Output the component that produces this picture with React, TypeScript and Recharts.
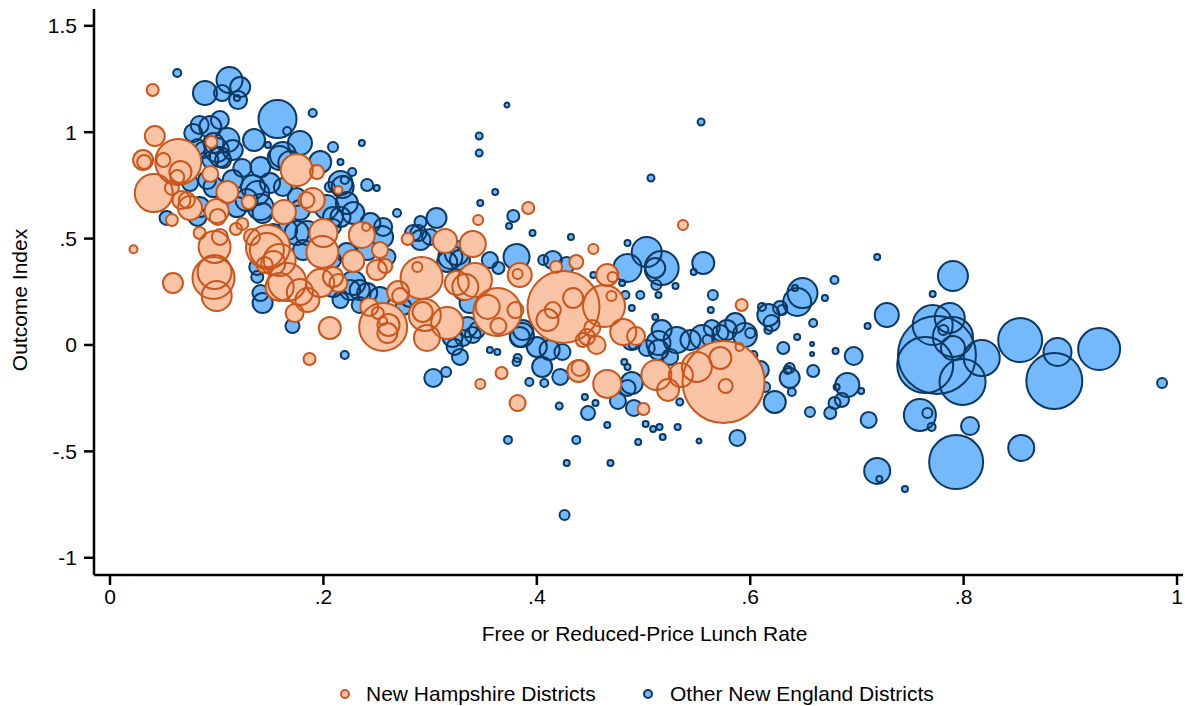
import React from 'react';
import { ScatterChart, Scatter, XAxis, YAxis, ZAxis, Label } from 'recharts';

const FONT = '"Liberation Sans", Arial, Helvetica, sans-serif';
const FONT_SIZE = 21;

const BLUE_FILL = '#74b9fb';
const BLUE_LINE = '#0b3963';
const ORANGE_FILL = '#f9c3a6';
const ORANGE_LINE = '#c9571b';

const xTicks = [0, 0.2, 0.4, 0.6, 0.8, 1];
const xTickLabels = ['0', '.2', '.4', '.6', '.8', '1'];
const yTicks = [-1, -0.5, 0, 0.5, 1, 1.5];
const yTickLabels = ['-1', '-.5', '0', '.5', '1', '1.5'];

// [free/reduced-price lunch rate, outcome index, enrollment]
type District = [number, number, number];

const nhDistricts: District[] = [
  [0.022, 0.45, 160], [0.040, 1.198, 360], [0.042, 0.982, 1000], [0.031, 0.869, 1000],
  [0.032, 0.860, 490], [0.050, 0.869, 490], [0.064, 0.860, 5290], [0.041, 0.714, 3610],
  [0.066, 0.813, 1210], [0.063, 0.789, 490], [0.058, 0.738, 490], [0.067, 0.681, 810],
  [0.075, 0.644, 1440], [0.072, 0.681, 640], [0.058, 0.587, 360], [0.059, 0.291, 1000],
  [0.095, 0.954, 360], [0.094, 0.804, 640], [0.110, 0.719, 1210], [0.130, 0.672, 490],
  [0.100, 0.630, 1440], [0.101, 0.602, 640], [0.084, 0.526, 360], [0.098, 0.461, 2560],
  [0.103, 0.508, 640], [0.124, 0.569, 360], [0.118, 0.545, 360], [0.133, 0.508, 640],
  [0.097, 0.315, 4410], [0.098, 0.343, 2890], [0.100, 0.230, 2250], [0.148, 0.461, 4840],
  [0.147, 0.446, 2890], [0.153, 0.385, 1440], [0.159, 0.399, 2560], [0.145, 0.376, 640],
  [0.166, 0.296, 3610], [0.159, 0.273, 1960], [0.178, 0.249, 1690], [0.173, 0.150, 810],
  [0.185, 0.211, 1440], [0.175, 0.822, 2560], [0.194, 0.813, 490], [0.214, 0.728, 160],
  [0.163, 0.625, 1440], [0.190, 0.681, 1440], [0.184, 0.681, 640], [0.200, 0.526, 1960],
  [0.199, 0.437, 2560], [0.197, 0.291, 1960], [0.209, 0.320, 1000], [0.214, 0.291, 810],
  [0.228, 0.395, 1210], [0.236, 0.517, 1690], [0.240, 0.555, 160], [0.253, 0.446, 640],
  [0.250, 0.352, 1000], [0.258, 0.371, 490], [0.206, 0.080, 1210], [0.187, -0.066, 360],
  [0.256, 0.085, 5760], [0.243, 0.179, 810], [0.251, 0.150, 360], [0.261, 0.094, 1210],
  [0.260, 0.056, 1000], [0.256, 0.113, 160], [0.270, 0.249, 1210], [0.272, 0.230, 640],
  [0.279, 0.498, 360], [0.314, 0.489, 1440], [0.340, 0.475, 1690], [0.345, 0.587, 250],
  [0.392, 0.644, 360], [0.292, 0.315, 4410], [0.288, 0.367, 250], [0.295, 0.141, 2560],
  [0.293, 0.155, 1000], [0.316, 0.103, 2560], [0.297, 0.033, 1690], [0.342, 0.305, 2890],
  [0.333, 0.273, 1690], [0.325, 0.291, 1440], [0.354, 0.179, 1440], [0.363, 0.155, 5760],
  [0.364, 0.089, 640], [0.380, 0.164, 640], [0.384, 0.329, 1440], [0.382, 0.334, 250],
  [0.418, 0.367, 360], [0.437, 0.390, 490], [0.453, 0.451, 250], [0.425, 0.179, 12960],
  [0.434, 0.221, 1000], [0.415, 0.164, 640], [0.410, 0.117, 1210], [0.463, 0.183, 4410],
  [0.470, 0.230, 250], [0.466, 0.329, 1210], [0.471, 0.320, 250], [0.452, 0.080, 640],
  [0.456, 0.000, 810], [0.447, 0.038, 640], [0.443, 0.023, 490], [0.481, 0.061, 1690],
  [0.493, 0.042, 810], [0.439, -0.122, 1210], [0.440, -0.108, 640], [0.367, -0.132, 360],
  [0.347, -0.183, 250], [0.382, -0.273, 640], [0.466, -0.183, 1960], [0.500, -0.301, 360],
  [0.537, 0.564, 250], [0.592, 0.188, 360], [0.512, -0.141, 2250], [0.523, -0.211, 1210],
  [0.535, -0.141, 1440], [0.550, -0.103, 2250], [0.572, -0.061, 1210], [0.575, -0.174, 16810],
  [0.577, -0.193, 490], [0.590, -0.009, 160],
];

// Other New England districts, grouped by lunch-rate band
const otherLowRate: District[] = [
  [0.063, 1.278, 160], [0.089, 1.184, 1440], [0.112, 1.245, 1690], [0.122, 1.212, 1000],
  [0.105, 1.184, 640], [0.120, 1.151, 810], [0.119, 1.161, 90], [0.157, 1.062, 3610],
  [0.190, 1.090, 160], [0.166, 1.006, 160], [0.135, 0.963, 1210], [0.148, 0.940, 90],
  [0.178, 0.949, 1440], [0.209, 0.930, 250], [0.236, 0.949, 90], [0.197, 0.860, 1210],
  [0.162, 0.893, 1690], [0.169, 0.855, 1440], [0.141, 0.836, 1000], [0.124, 0.832, 810],
  [0.110, 0.963, 1440], [0.094, 1.024, 1210], [0.078, 0.996, 810], [0.084, 1.034, 810],
  [0.103, 1.057, 810], [0.082, 0.930, 640], [0.094, 0.869, 640], [0.100, 0.916, 1440],
  [0.115, 0.916, 1000], [0.103, 0.883, 1000], [0.097, 0.949, 1000], [0.087, 0.916, 640],
  [0.091, 0.775, 810], [0.097, 0.742, 1000], [0.053, 0.597, 490], [0.084, 0.648, 1000],
  [0.082, 0.602, 810], [0.075, 0.761, 640], [0.115, 0.775, 1000], [0.134, 0.742, 1440],
  [0.150, 0.761, 1000], [0.162, 0.742, 810], [0.138, 0.714, 1440], [0.141, 0.648, 1690],
  [0.128, 0.681, 1210], [0.175, 0.695, 810], [0.203, 0.648, 1440], [0.209, 0.602, 1000],
  [0.228, 0.620, 1210], [0.244, 0.573, 1000], [0.175, 0.526, 1440], [0.166, 0.540, 1000],
  [0.181, 0.446, 1000], [0.222, 0.432, 1000], [0.241, 0.446, 1000], [0.228, 0.291, 1440],
  [0.241, 0.244, 1000], [0.143, 0.197, 1000], [0.141, 0.244, 640], [0.106, 0.869, 640],
  [0.216, 0.761, 1440], [0.241, 0.752, 360], [0.220, 0.775, 160], [0.159, 0.879, 1440],
  [0.206, 0.742, 250], [0.218, 0.742, 1210], [0.250, 0.738, 90], [0.269, 0.620, 160],
  [0.222, 0.667, 1210], [0.216, 0.602, 1000], [0.256, 0.555, 810], [0.119, 0.648, 1000],
  [0.143, 0.620, 1000], [0.153, 0.526, 810], [0.178, 0.634, 1000], [0.185, 0.526, 1440],
  [0.209, 0.555, 640], [0.209, 0.399, 640], [0.138, 0.367, 640], [0.138, 0.320, 360],
  [0.171, 0.089, 490], [0.209, 0.273, 1000], [0.216, 0.211, 640], [0.225, 0.258, 1000],
  [0.234, 0.188, 640], [0.281, 0.226, 1000], [0.275, 0.179, 640], [0.220, -0.047, 160],
  [0.303, -0.155, 810], [0.315, -0.127, 250], [0.216, 0.860, 90], [0.227, 0.813, 160],
  [0.253, 0.226, 1000], [0.234, 0.258, 1000],
];

const otherMidRate: District[] = [
  [0.372, 1.128, 62], [0.346, 0.982, 122], [0.346, 0.902, 122], [0.554, 1.048, 122],
  [0.507, 0.785, 122], [0.361, 0.719, 90], [0.347, 0.667, 90], [0.378, 0.606, 360],
  [0.374, 0.559, 90], [0.396, 0.526, 90], [0.432, 0.508, 90], [0.306, 0.597, 1000],
  [0.291, 0.578, 360], [0.289, 0.526, 640], [0.325, 0.432, 1440], [0.316, 0.390, 1000],
  [0.356, 0.399, 640], [0.364, 0.362, 360], [0.255, 0.508, 1210], [0.260, 0.414, 640],
  [0.319, 0.414, 1440], [0.328, 0.399, 1000], [0.291, 0.493, 1000], [0.284, 0.526, 640],
  [0.300, 0.508, 640], [0.331, 0.258, 1000], [0.337, 0.197, 1000], [0.321, 0.038, 1000],
  [0.323, -0.009, 640], [0.331, 0.033, 640], [0.344, 0.070, 640], [0.356, -0.023, 90],
  [0.363, -0.033, 90], [0.386, 0.047, 1440], [0.382, -0.061, 160], [0.381, 0.414, 1690],
  [0.415, 0.399, 810], [0.406, 0.399, 250], [0.428, 0.376, 640], [0.453, 0.329, 90],
  [0.384, 0.038, 1000], [0.405, -0.103, 1000], [0.422, -0.150, 640], [0.393, -0.174, 160],
  [0.407, -0.179, 160], [0.381, -0.080, 160], [0.400, -0.009, 1000], [0.412, -0.023, 1000],
  [0.424, -0.033, 640], [0.373, -0.446, 160], [0.437, -0.446, 160], [0.428, -0.555, 90],
  [0.469, -0.555, 90], [0.445, -0.244, 90], [0.455, -0.273, 90], [0.448, -0.320, 490],
  [0.466, -0.376, 90], [0.421, -0.287, 122], [0.476, -0.263, 640], [0.489, -0.179, 1210],
  [0.485, -0.202, 640], [0.491, -0.296, 640], [0.482, -0.080, 90], [0.485, -0.103, 90],
  [0.502, -0.371, 90], [0.509, -0.395, 90], [0.515, -0.385, 90], [0.518, -0.432, 90],
  [0.495, -0.456, 90], [0.532, -0.385, 90], [0.552, -0.451, 62], [0.588, -0.437, 640],
  [0.534, -0.268, 122], [0.426, -0.799, 250], [0.335, 0.085, 1000], [0.340, 0.047, 640],
  [0.387, 0.070, 1000], [0.328, -0.056, 640],
  [0.485, 0.479, 90], [0.503, 0.437, 2250], [0.517, 0.362, 2890], [0.511, 0.362, 1000],
  [0.485, 0.362, 1960], [0.556, 0.385, 1210], [0.547, 0.343, 90], [0.530, 0.277, 90],
  [0.512, 0.282, 250], [0.514, 0.235, 90], [0.497, 0.235, 160], [0.483, 0.235, 160],
  [0.511, 0.132, 90], [0.489, 0.174, 90], [0.565, 0.235, 250], [0.563, 0.164, 90],
  [0.617, 0.141, 1210], [0.628, 0.174, 490], [0.611, 0.179, 160], [0.620, 0.103, 640],
  [0.617, 0.070, 160], [0.631, -0.014, 360], [0.517, 0.070, 1000], [0.531, 0.023, 1690],
  [0.514, 0.009, 1440], [0.544, 0.023, 1000], [0.555, 0.038, 1440], [0.572, 0.056, 640],
  [0.586, 0.103, 1000], [0.595, 0.047, 1440], [0.600, 0.056, 250], [0.603, -0.047, 160],
  [0.560, 0.023, 250], [0.525, -0.056, 640], [0.503, -0.014, 640], [0.490, 0.000, 160],
  [0.489, 0.023, 1000], [0.478, 0.023, 160], [0.609, -0.117, 810], [0.614, -0.197, 250],
  [0.623, -0.268, 1210], [0.637, -0.155, 1000], [0.639, -0.221, 160], [0.635, -0.117, 160],
  [0.578, 0.070, 1000], [0.564, 0.080, 640], [0.514, -0.023, 1000], [0.480, 0.291, 90],
];

const otherHighRate: District[] = [
  [0.719, 0.414, 90], [0.790, 0.324, 2250], [0.771, 0.240, 90], [0.728, 0.141, 1440],
  [0.710, 0.089, 90], [0.679, 0.305, 160], [0.670, 0.221, 90], [0.649, 0.244, 2250],
  [0.644, 0.202, 1960], [0.642, 0.268, 90], [0.630, 0.164, 250], [0.659, 0.103, 160],
  [0.644, 0.038, 90], [0.658, 0.005, 40], [0.658, -0.042, 40], [0.680, -0.028, 90],
  [0.697, -0.052, 810], [0.659, -0.122, 360], [0.637, -0.108, 250], [0.656, -0.315, 250],
  [0.675, -0.320, 360], [0.679, -0.273, 360], [0.686, -0.258, 490], [0.691, -0.188, 1440],
  [0.681, -0.197, 90], [0.704, -0.216, 90], [0.711, -0.352, 640], [0.719, -0.592, 1690],
  [0.721, -0.630, 90], [0.745, -0.677, 90], [0.759, -0.329, 2560], [0.766, -0.320, 250],
  [0.770, -0.385, 160], [0.806, -0.381, 810], [0.793, -0.550, 7290], [0.854, -0.484, 1690],
  [0.986, -0.179, 250], [0.771, 0.094, 4000], [0.787, 0.127, 2250], [0.790, 0.038, 4000],
  [0.775, -0.047, 15210], [0.764, -0.094, 7840], [0.799, -0.174, 5290], [0.817, -0.061, 3240],
  [0.790, -0.014, 1440], [0.781, 0.070, 250], [0.853, 0.023, 4840], [0.888, -0.033, 1960],
  [0.885, -0.169, 7840], [0.927, -0.019, 4410],
];

const toRows = (rows: District[]) =>
  rows.map(([lunch, outcome, enroll]) => ({ lunch, outcome, enroll }));

const nhRows = toRows(nhDistricts);
const otherRows = toRows([...otherLowRate, ...otherMidRate, ...otherHighRate]);

const MAX_ENROLL = 20000;
// marker area proportional to enrollment
const MAX_AREA = (Math.PI * MAX_ENROLL) / 10;

const axisStroke = { stroke: '#000', strokeWidth: 2.5 };
const tickStyle = { fill: '#000', fontSize: FONT_SIZE, fontFamily: FONT };

export default function App() {
  return (
    <div
      style={{
        position: 'absolute',
        left: 0,
        top: 0,
        width: 1185,
        height: 706,
        overflow: 'hidden',
        background: '#fff',
        fontFamily: FONT,
      }}
    >
      <ScatterChart width={1185} height={706} margin={{ top: 9, right: 2, bottom: 81, left: 0 }}>
        <XAxis
          type="number"
          dataKey="lunch"
          domain={[-0.015, 1.0056]}
          ticks={xTicks}
          interval={0}
          allowDataOverflow
          tickFormatter={(v: number) => xTickLabels[xTicks.indexOf(v)] ?? String(v)}
          axisLine={axisStroke}
          tickLine={axisStroke}
          tickSize={10}
          tickMargin={4}
          height={50}
          tick={tickStyle}
        >
          <Label
            content={(props: any) => {
              const vb = props.viewBox || { x: 94, y: 575, width: 1089 };
              return (
                <text
                  x={vb.x + vb.width / 2 + 6}
                  y={vb.y + 66}
                  textAnchor="middle"
                  fontSize={FONT_SIZE}
                  fontFamily={FONT}
                  fill="#000"
                >
                  Free or Reduced-Price Lunch Rate
                </text>
              );
            }}
          />
        </XAxis>
        <YAxis
          type="number"
          dataKey="outcome"
          domain={[-1.081, 1.579]}
          ticks={yTicks}
          interval={0}
          allowDataOverflow
          tickFormatter={(v: number) => yTickLabels[yTicks.indexOf(v)] ?? String(v)}
          axisLine={axisStroke}
          tickLine={axisStroke}
          tickSize={10}
          tickMargin={7}
          width={94}
          tick={tickStyle}
        >
          <Label
            content={(props: any) => {
              const vb = props.viewBox || { x: 0, y: 9, width: 94, height: 566 };
              const tx = vb.x + 27;
              const ty = vb.y + vb.height / 2 + 8;
              return (
                <text
                  x={tx}
                  y={ty}
                  transform={`rotate(-90, ${tx}, ${ty})`}
                  textAnchor="middle"
                  fontSize={FONT_SIZE}
                  fontFamily={FONT}
                  fill="#000"
                >
                  Outcome Index
                </text>
              );
            }}
          />
        </YAxis>
        <ZAxis type="number" dataKey="enroll" domain={[0, MAX_ENROLL]} range={[0, MAX_AREA]} />

        {/* fills first, then outlines, so every outline in a group stays visible */}
        <Scatter data={otherRows} fill={BLUE_FILL} stroke="none" isAnimationActive={false} />
        <Scatter data={otherRows} fill="none" stroke={BLUE_LINE} strokeWidth={2} isAnimationActive={false} />
        <Scatter data={nhRows} fill={ORANGE_FILL} stroke="none" isAnimationActive={false} />
        <Scatter data={nhRows} fill="none" stroke={ORANGE_LINE} strokeWidth={2} isAnimationActive={false} />
      </ScatterChart>

      <svg width={1185} height={28} style={{ position: 'absolute', left: 0, top: 678 }}>
        <circle cx={345} cy={16} r={4} fill={ORANGE_FILL} stroke={ORANGE_LINE} strokeWidth={2} />
        <text x={366} y={23} fontSize={FONT_SIZE} fontFamily={FONT} fill="#000">
          New Hampshire Districts
        </text>
        <circle cx={648} cy={16} r={4} fill={BLUE_FILL} stroke={BLUE_LINE} strokeWidth={2} />
        <text x={670} y={23} fontSize={FONT_SIZE} fontFamily={FONT} fill="#000">
          Other New England Districts
        </text>
      </svg>
    </div>
  );
}
